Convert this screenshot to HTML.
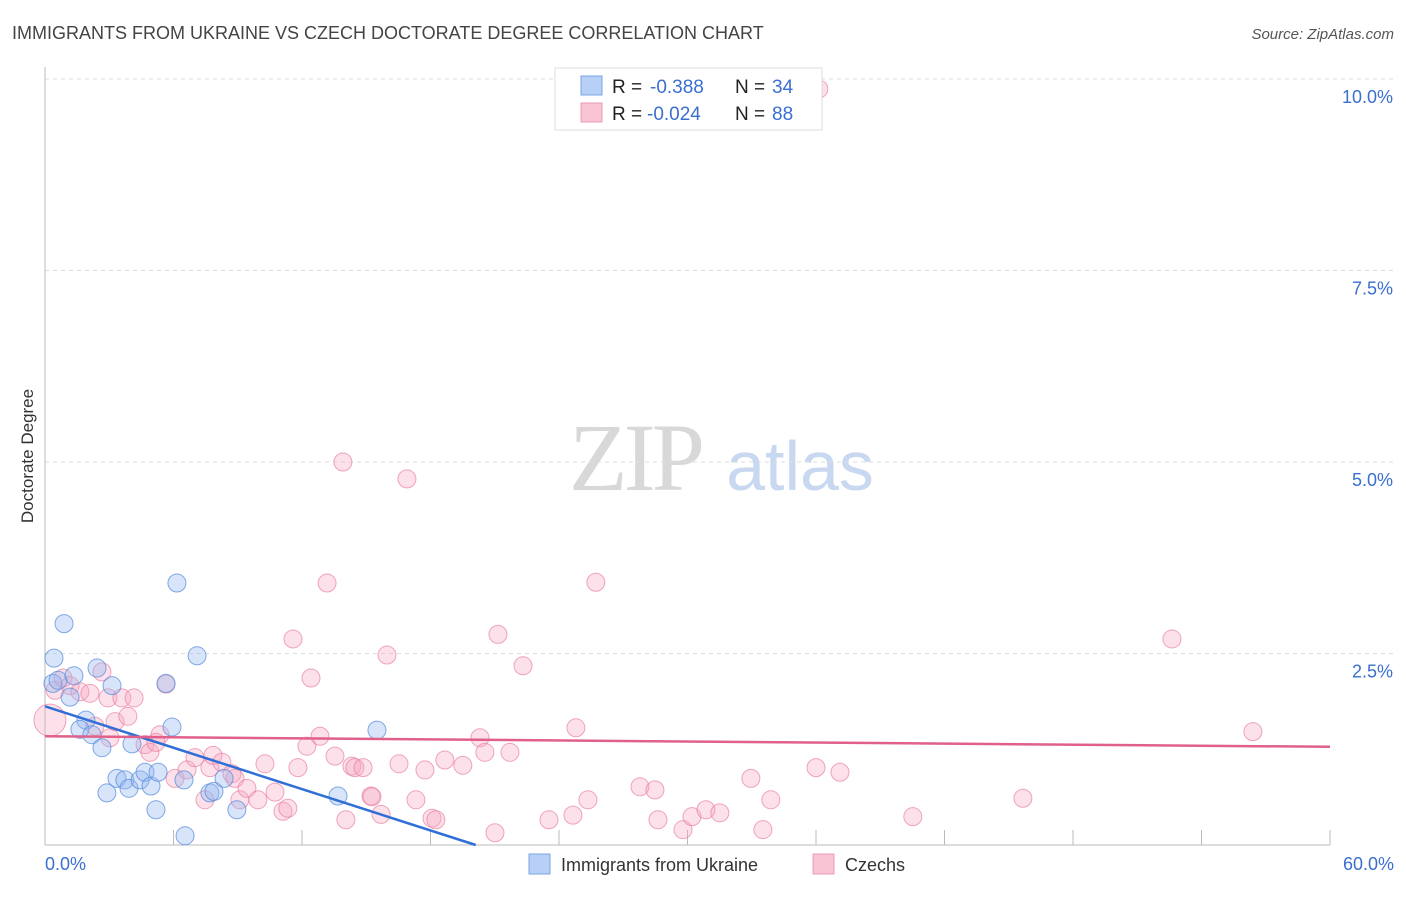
<!DOCTYPE html>
<html><head><meta charset="utf-8"><style>
body{margin:0;background:#fff;font-family:"Liberation Sans",sans-serif;}
</style></head><body>
<svg id="chart" width="1406" height="892" viewBox="0 0 1406 892" xmlns="http://www.w3.org/2000/svg" font-family="Liberation Sans, sans-serif">
<text x="12" y="39" font-size="18" fill="#444">IMMIGRANTS FROM UKRAINE VS CZECH DOCTORATE DEGREE CORRELATION CHART</text>
<text x="1394" y="39" font-size="15" fill="#555" text-anchor="end" font-style="italic">Source: ZipAtlas.com</text>
<text transform="translate(33,456) rotate(-90)" font-size="17" fill="#333" text-anchor="middle">Doctorate Degree</text>
<g>
<text x="635" y="490" font-size="96" fill="#d8d8d8" text-anchor="middle" style="font-family:'Liberation Serif',serif" letter-spacing="-4">ZIP</text>
<text x="800" y="490" font-size="70" fill="#c8d8f0" text-anchor="middle">atlas</text>
</g>
<g id="grid"></g>
<g id="axes"></g>
<g id="pink"></g>
<g id="blue"></g>
<g id="trends"></g>
<g>
<rect x="555" y="68" width="267" height="62" fill="#fff" stroke="#ddd"/>
<rect x="581" y="76" width="21" height="19" fill="#b8d0f5" stroke="#7aa4e6"/>
<text x="612" y="93" font-size="19" fill="#222">R = </text><text x="650" y="93" font-size="19" fill="#3a6fd0">-0.388</text>
<text x="735" y="93" font-size="19" fill="#222">N = </text><text x="772" y="93" font-size="19" fill="#3a6fd0">34</text>
<rect x="581" y="103" width="21" height="19" fill="#f8c4d4" stroke="#eb9ab4"/>
<text x="612" y="120" font-size="19" fill="#222">R = </text><text x="647" y="120" font-size="19" fill="#3a6fd0">-0.024</text>
<text x="735" y="120" font-size="19" fill="#222">N = </text><text x="772" y="120" font-size="19" fill="#3a6fd0">88</text>
</g>
<g>
<rect x="529" y="854" width="21" height="20" fill="#b8d0f5" stroke="#7aa4e6"/>
<text x="561" y="871" font-size="18" fill="#333">Immigrants from Ukraine</text>
<rect x="813" y="854" width="21" height="20" fill="#f8c4d4" stroke="#eb9ab4"/>
<text x="845" y="871" font-size="18" fill="#333">Czechs</text>
</g>
</svg>
<script>
const yTicks=[2.5,5,7.5,10];
const yTickLabels=["2.5%","5.0%","7.5%","10.0%"];
const xTicks=[0,6,12,18,24,30,36,42,48,54,60];
const xTickLabels=["0.0%","60.0%"];
const blueX=[0.42,0.89,0.37,0.61,1.35,1.17,2.43,3.13,1.91,1.63,2.19,2.66,4.06,2.89,3.36,3.73,3.92,4.44,4.67,4.95,5.28,5.18,5.65,5.93,6.16,6.49,6.54,7.10,7.70,7.89,8.36,8.96,13.68,15.50];
const blueY=[2.44,2.89,2.11,2.15,2.21,1.93,2.31,2.08,1.63,1.51,1.44,1.27,1.32,0.68,0.87,0.85,0.74,0.85,0.95,0.77,0.95,0.46,2.11,1.54,3.42,0.85,0.12,2.47,0.68,0.70,0.87,0.46,0.64,1.50];
const pinkX=[0.23,0.47,0.84,1.17,1.63,2.10,2.66,2.94,3.27,3.59,4.16,3.87,3.03,2.33,4.67,4.90,5.37,5.18,5.65,6.07,6.63,7.00,7.47,7.70,7.84,8.26,8.73,8.87,9.10,9.43,9.94,10.27,10.74,11.11,11.34,11.58,11.81,12.23,12.42,12.84,13.17,13.54,13.91,14.05,14.33,14.47,14.85,15.22,15.27,15.69,15.97,16.53,16.90,17.32,17.74,18.07,18.25,18.67,19.51,20.31,20.54,21.01,21.15,21.71,22.32,23.53,24.79,24.65,25.35,25.72,27.78,28.48,28.62,29.79,30.21,30.86,31.51,32.96,33.52,33.89,36.00,36.13,37.12,40.52,45.66,52.62,56.40];
const pinkY=[1.63,2.02,2.18,2.08,2.00,1.98,2.26,1.92,1.61,1.92,1.92,1.68,1.40,1.55,1.31,1.21,1.44,1.34,2.10,0.87,0.98,1.14,0.59,1.01,1.17,1.08,0.93,0.87,0.59,0.74,0.59,1.06,0.69,0.44,0.48,2.69,1.01,1.29,2.18,1.42,3.42,1.16,5.00,0.33,1.03,1.01,1.01,0.64,0.63,0.40,2.48,1.06,4.78,0.59,0.98,0.35,0.33,1.11,1.04,1.40,1.21,0.16,2.75,1.21,2.34,0.33,1.53,0.39,0.59,3.43,0.76,0.72,0.33,0.20,0.37,0.46,0.42,0.87,0.20,0.59,1.01,9.87,0.95,0.37,0.61,2.69,1.48];
const blueTrend=[1.81,-0.09];
const pinkTrend=[1.42,-0.0023];

const NS="http://www.w3.org/2000/svg";
const X0=45,X1=1330,Y0=845,Y1=79;
const sx=v=>X0+(v/60)*(X1-X0);
const sy=v=>Y0-(v/10)*(Y0-Y1);
function mk(tag,attrs,parent){const e=document.createElementNS(NS,tag);for(const k in attrs)e.setAttribute(k,attrs[k]);parent.appendChild(e);return e;}
const grid=document.getElementById('grid'),axes=document.getElementById('axes');
yTicks.forEach((t,i)=>{
  const l=mk('line',{x1:X0,x2:1394,y1:sy(t),y2:sy(t),stroke:'#ddd','stroke-dasharray':'4,4'},grid);
  
  
  const tx=mk('text',{x:1393,y:sy(t)+24,'font-size':18,fill:'#3a6fd0','text-anchor':'end'},axes);
  tx.textContent=yTickLabels[i];
  
  
});
const ax=mk('line',{x1:X0,x2:X0,y1:67,y2:Y0,stroke:'#bbb'},axes);


const bx=mk('line',{x1:X0,x2:X1,y1:Y0,y2:Y0,stroke:'#bbb'},axes);


xTicks.forEach(t=>{
  const l=mk('line',{x1:sx(t),x2:sx(t),y1:Y0,y2:Y0-15,stroke:'#bbb'},axes);
  
  
});
[[0,'start',45],[60,'end',1394]].forEach((d,i)=>{
  const tx=mk('text',{x:d[2],y:870,'font-size':18,fill:'#3a6fd0','text-anchor':d[1]},axes);
  tx.textContent=xTickLabels[i];
  
  
});
const pg=document.getElementById('pink');
pinkX.forEach((x,i)=>{
  const c=mk('circle',{cx:sx(x),cy:sy(pinkY[i]),r:i===0?16:9,fill:'rgba(245,165,190,0.33)',stroke:'rgba(232,120,155,0.65)','stroke-width':1},pg);
  
  
});
const bg=document.getElementById('blue');
blueX.forEach((x,i)=>{
  const c=mk('circle',{cx:sx(x),cy:sy(blueY[i]),r:9,fill:'rgba(150,185,240,0.38)',stroke:'rgba(80,135,220,0.7)','stroke-width':1},bg);
  
  
});
const tg=document.getElementById('trends');
const bEnd=-blueTrend[0]/blueTrend[1];
const bl=mk('line',{x1:sx(0),y1:sy(blueTrend[0]),x2:sx(bEnd),y2:sy(0),stroke:'#2f6fd6','stroke-width':2.5},tg);


const pl=mk('line',{x1:sx(0),y1:sy(pinkTrend[0]),x2:sx(60),y2:sy(pinkTrend[0]+pinkTrend[1]*60),stroke:'#e0608a','stroke-width':2.5},tg);


</script>
</body></html>
